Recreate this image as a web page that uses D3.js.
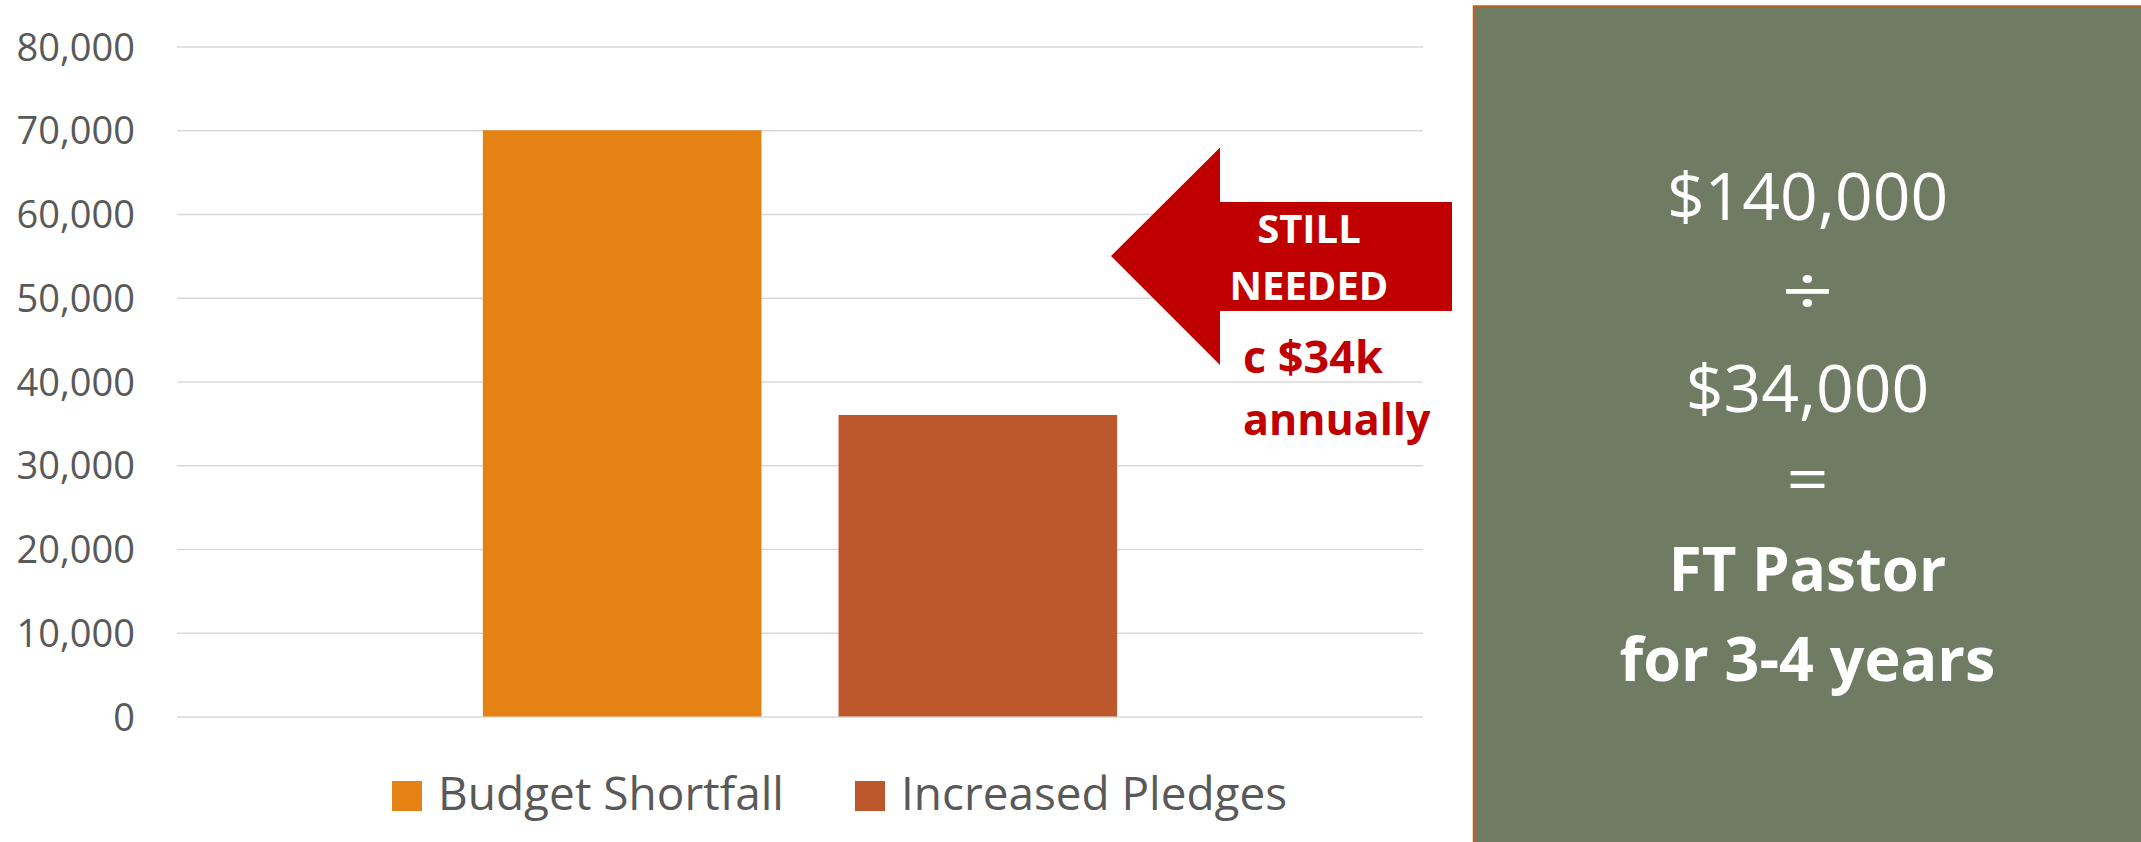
<!DOCTYPE html>
<html>
<head>
<meta charset="utf-8">
<script src="https://cdn.jsdelivr.net/npm/d3@7/dist/d3.min.js"></script>
<style>
  html, body { margin: 0; padding: 0; background: #ffffff; }
  svg { display: block; }
  text { font-family: "Open Sans", "Noto Sans", sans-serif; }
</style>
</head>
<body>
<script>
// ---- data ----
const categories = ["Budget Shortfall", "Increased Pledges"];
const values = [70000, 36000];
const yTicks = [0, 10000, 20000, 30000, 40000, 50000, 60000, 70000, 80000];
const barColors = ["#E58214", "#BD582C"];
const arrowLines = ["STILL", "NEEDED"];
const noteLines = ["c $34k", "annually"];
const boxLines = ["$140,000", "÷", "$34,000", "=", "FT Pastor", "for 3-4 years"];

const W = 2141, H = 842;
const plot = { left: 177, right: 1423, top: 46.5, bottom: 716.5 };

const svg = d3.select("body").append("svg").attr("width", W).attr("height", H);

const y = d3.scaleLinear().domain([0, 80000]).range([plot.bottom, plot.top]);
const x = d3.scaleBand().domain(categories).range([plot.left, plot.right])
  .paddingInner(0.2166).paddingOuter(0.86);

// gridlines
const grid = svg.append("g").attr("transform", `translate(${plot.left},0)`)
  .call(d3.axisLeft(y).tickValues(yTicks).tickSize(-(plot.right - plot.left)).tickFormat(""));
grid.select(".domain").remove();
grid.selectAll(".tick line").attr("stroke", "#D9D9D9").attr("stroke-width", 1.6);

// y axis labels
const yAxis = svg.append("g").attr("transform", `translate(135,0)`)
  .call(d3.axisLeft(y).tickValues(yTicks).tickSize(0).tickPadding(0).tickFormat(d3.format(",")));
yAxis.select(".domain").remove();
yAxis.selectAll(".tick text")
  .attr("fill", "#595959").attr("font-size", 38).attr("dy", "0.36em")
  .style("font-family", '"Open Sans", sans-serif');

// bars
svg.append("g").selectAll("rect").data(categories).join("rect")
  .attr("x", d => x(d))
  .attr("width", x.bandwidth())
  .attr("y", (d, i) => y(values[i]))
  .attr("height", (d, i) => y(0) - y(values[i]))
  .attr("fill", (d, i) => barColors[i]);

// legend
const legendX = [392, 855];
const legendW = [346, 386];
const leg = svg.append("g");
categories.forEach((c, i) => {
  leg.append("rect").attr("x", legendX[i]).attr("y", 781).attr("width", 30).attr("height", 30).attr("fill", barColors[i]);
  leg.append("text").attr("x", legendX[i] + 46).attr("y", 810)
    .attr("font-size", 45).attr("fill", "#595959")
    .attr("textLength", legendW[i]).attr("lengthAdjust", "spacingAndGlyphs")
    .text(c);
});

// red arrow annotation
const arrowPts = [[1111, 256], [1220, 147.5], [1220, 202], [1452, 202], [1452, 311], [1220, 311], [1220, 365]];
svg.append("path").attr("d", d3.line()(arrowPts) + "Z").attr("fill", "#C00000");
arrowLines.forEach((t, i) => {
  svg.append("text").attr("x", 1309).attr("y", 243 + i * 57)
    .attr("text-anchor", "middle").attr("font-size", 40).attr("font-weight", 700)
    .attr("fill", "#ffffff").text(t);
});
noteLines.forEach((t, i) => {
  svg.append("text").attr("x", 1243).attr("y", 373 + i * 62)
    .attr("font-size", i === 0 ? 45 : 43).attr("font-weight", 700)
    .attr("fill", "#C00000").text(t);
});

// green box
svg.append("rect").attr("x", 1474).attr("y", 6.5).attr("width", W - 1474 + 5).attr("height", H - 6.5 + 5)
  .attr("fill", "#6F7B63").attr("stroke", "#B5651D").attr("stroke-width", 2.5);
const boxCx = (1474 + W) / 2;
const boxBase = [220, 316, 412, 501.5, 591, 681];
const boxSize = [66, 70, 66, 64, 60, 61];
const boxSx = [1, 1.3, 1, 1.15, 1, 1];
const boxWeight = [400, 400, 400, 400, 700, 700];
boxLines.forEach((t, i) => {
  svg.append("text")
    .attr("transform", `translate(${boxCx},${boxBase[i]}) scale(${boxSx[i]},1)`)
    .attr("text-anchor", "middle").attr("font-size", boxSize[i]).attr("font-weight", boxWeight[i])
    .attr("fill", "#ffffff").text(t);
});
</script>
</body>
</html>
